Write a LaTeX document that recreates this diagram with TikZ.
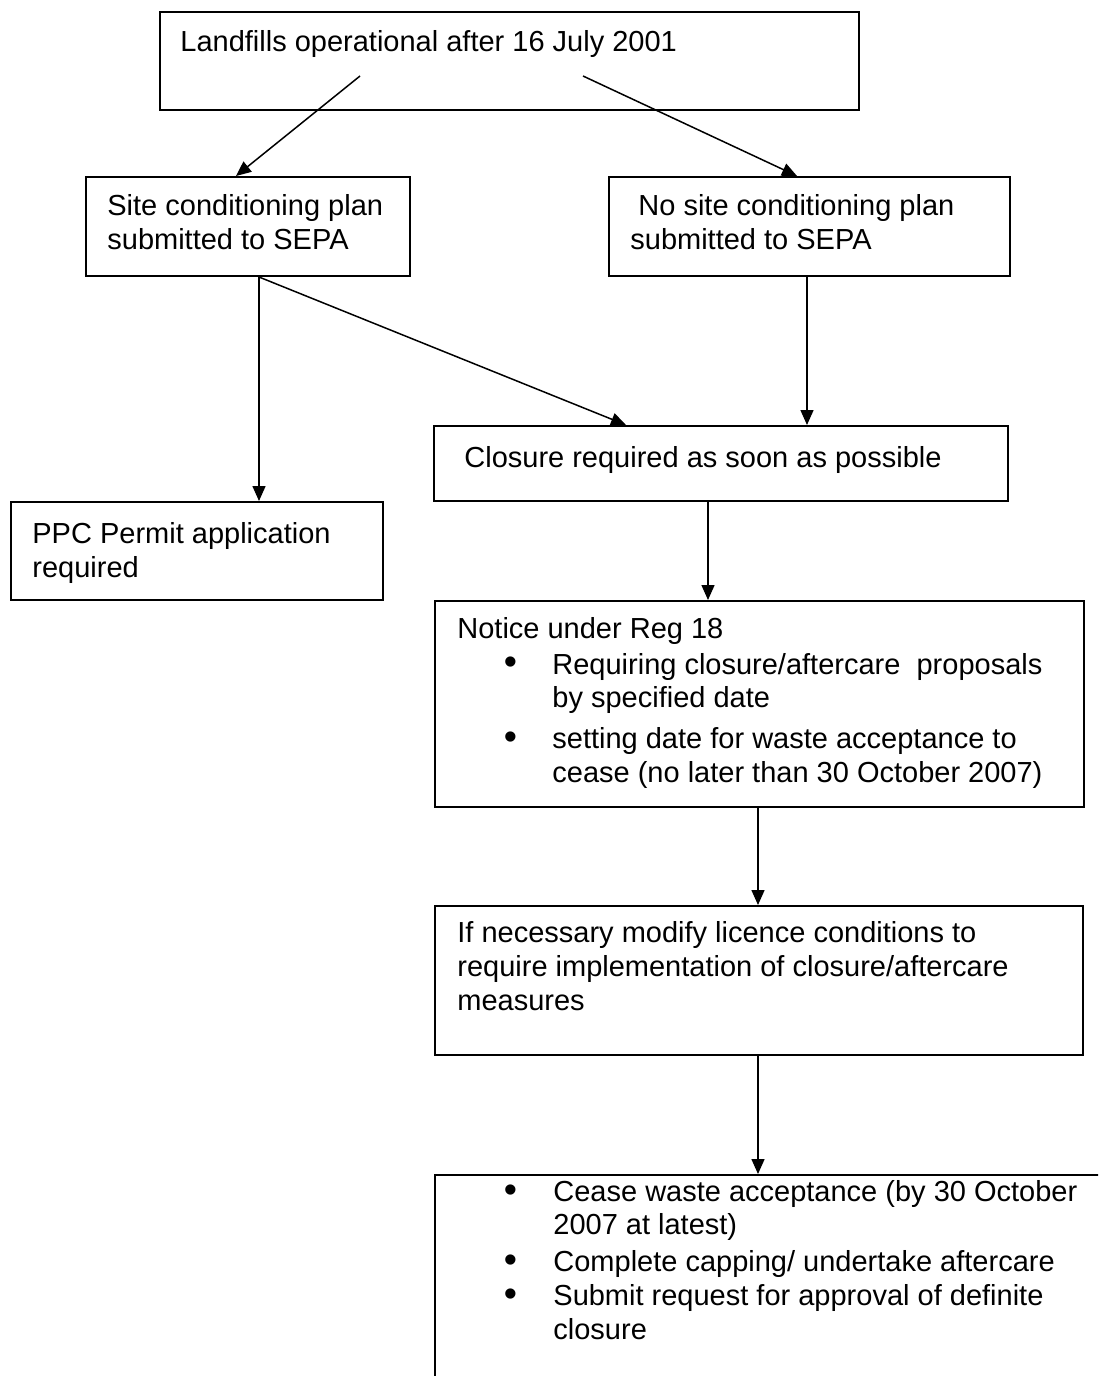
\documentclass[tikz,border=0pt]{standalone}
\usepackage{fontspec}
\setmainfont{Liberation Sans}
\usepackage{graphicx}
\usetikzlibrary{arrows.meta,fit,calc}
\newcommand{\bul}{\makebox[0pt][c]{\raisebox{-0.4pt}{\scalebox{1.3}{\textbullet}}}}
\tikzset{
  box/.style={draw=black, line width=1pt, inner sep=0pt, rectangle},
  txt/.style={inner sep=0pt, anchor=base west, align=left,
    font=\fontsize{14.5pt}{16.8pt}\selectfont},
  arr/.style={line width=0.75pt, -{Triangle[length=7.5pt,width=6.5pt]}}
}
\begin{document}
\begin{tikzpicture}[x=0.5pt,y=-0.5pt]
\useasboundingbox (0,0) rectangle (1098,1376);
\fill[white] (0,0) rectangle (1098,1376);
\begin{scope}
\clip (0,0) rectangle (1098,1376);
% boxes
\node[box, fit={(160,12) (859,110)}] (b1) {};
\node[box, fit={(86,177) (410,276)}] (b2) {};
\node[box, fit={(609,177) (1010,276)}] (b3) {};
\node[box, fit={(434,426) (1008,501)}] (b4) {};
\node[box, fit={(11,502) (383,600)}] (b5) {};
\node[box, fit={(435,601) (1084,807)}] (b6) {};
\node[box, fit={(435,906) (1083,1055)}] (b7) {};
\node[box, fit={(435,1175) (1200,1500)}] (b8) {};
% texts (anchor = baseline of the last line)
\node[txt] (t1) at (180,51) {Landfills operational after 16 July 2001};
\node[txt] (t2) at (107,249) {Site conditioning plan\\submitted to SEPA};
\node[txt] (t3) at (630,249) {\hspace*{4pt}No site conditioning plan\\submitted to SEPA};
\node[txt] (t4) at (464,467) {Closure required as soon as possible};
\node[txt] (t5) at (32,577) {PPC Permit application\\required};
\node[txt] (t6) at (457,782) {Notice under Reg 18\\[1.2pt]
\hspace*{26.5pt}\bul\hspace{21pt}Requiring closure/aftercare\ \ proposals\\
\hspace*{47.5pt}by specified date\\[3.6pt]
\hspace*{26.5pt}\bul\hspace{21pt}setting date for waste acceptance to\\
\hspace*{47.5pt}cease (no later than 30 October 2007)};
\node[txt] (t7) at (457,1010) {If necessary modify licence conditions to\\require implementation of closure/aftercare\\measures};
\node[txt] (t8) at (510,1339) {\bul\hspace{21.5pt}Cease waste acceptance (by 30 October\\
\hspace*{21.5pt}2007 at latest)\\[1.7pt]
\bul\hspace{21.5pt}Complete capping/ undertake aftercare\\
\bul\hspace{21.5pt}Submit request for approval of definite\\
\hspace*{21.5pt}closure};
% connectors
\coordinate (s1) at (360,76);
\coordinate (s2) at (583,76);
\draw[arr] (s1) -- ($(b2.north west)+(151,0)$);
\draw[arr] (s2) -- ($(b3.north west)+(189,0)$);
\draw[arr] ($(b2.south west)+(174,0)$) coordinate (b2o) -- (b2o |- b5.north);
\draw[arr] (b2o) -- ($(b4.north west)+(193,0)$);
\draw[arr] ($(b3.south west)+(199,0)$) coordinate (b3o) -- (b3o |- b4.north);
\draw[arr] ($(b4.south west)+(275,0)$) coordinate (b4o) -- (b4o |- b6.north);
\draw[arr] ($(b6.south west)+(324,0)$) coordinate (b6o) -- (b6o |- b7.north);
\draw[arr] ($(b7.south west)+(324,0)$) coordinate (b7o) -- (b7o |- b8.north);
\end{scope}
\end{tikzpicture}
\end{document}
